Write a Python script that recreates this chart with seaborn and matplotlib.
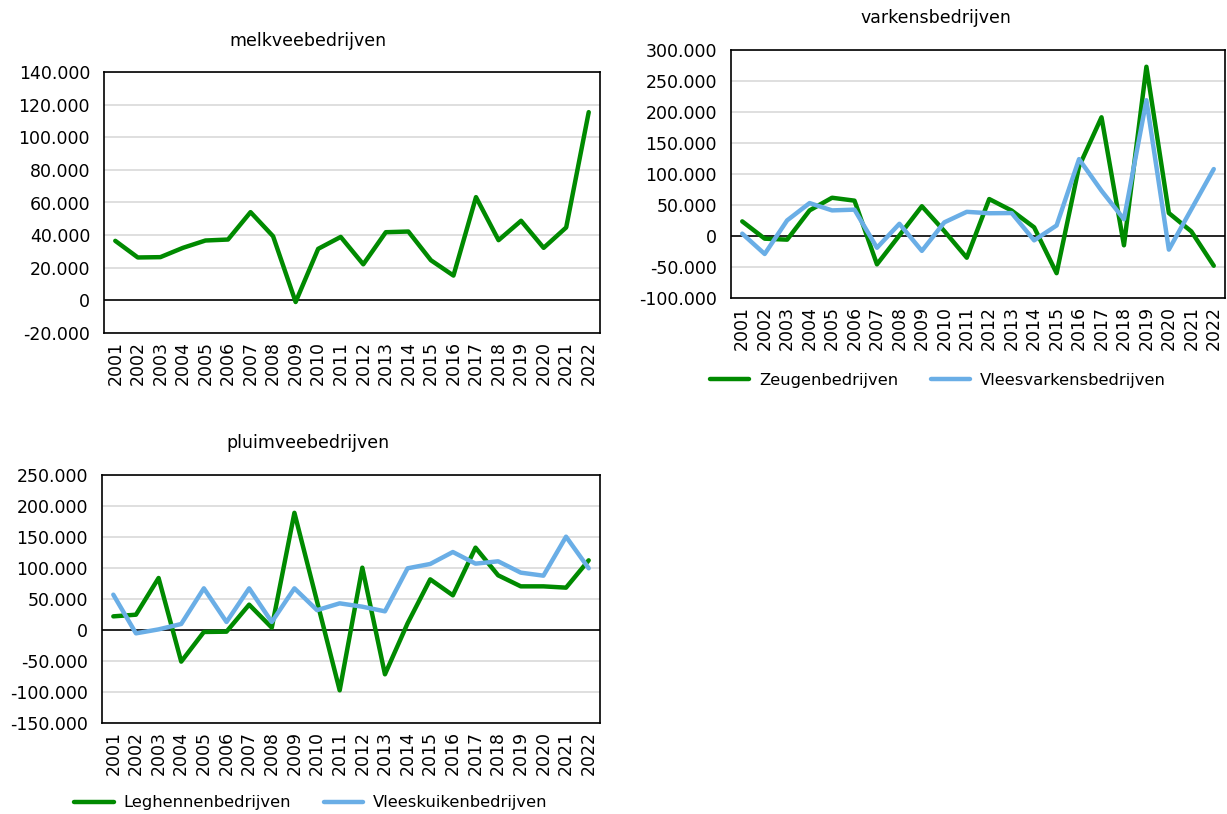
import matplotlib
matplotlib.use("Agg")
import matplotlib.pyplot as plt
from matplotlib.ticker import FuncFormatter, FixedLocator
from matplotlib.lines import Line2D
import seaborn as sns
import pandas as pd

years = list(range(2001, 2023))
melkvee = [36500, 26300, 26500, 32200, 36700, 37300, 54100, 39300, -1000, 31600, 38900,
           22100, 41800, 42200, 24600, 15200, 63300, 36900, 48800, 32200, 44700, 115400]
zeugen = [23600, -4300, -5900, 41300, 61700, 57000, -45700, 1000, 48000, 8000, -35000,
          59600, 41000, 14000, -60000, 112000, 191500, -15000, 273000, 37000, 7400, -48000]
vleesvarkens = [3800, -29000, 25200, 53100, 41300, 42500, -19000, 19700, -24000, 22000, 39000,
                36700, 37000, -7000, 17000, 124000, 73000, 27000, 219000, -22000, 43000, 108000]
leghennen = [22000, 24700, 83900, -51000, -3200, -2700, 40900, 3800, 189000, 46000, -97300,
             100500, -71500, 10800, 81700, 55900, 132800, 88200, 70400, 70400, 68300, 112400]
vleeskuiken = [57000, -5400, 1000, 9700, 67200, 12900, 67200, 12900, 67200, 32000, 43000,
               37600, 30100, 99500, 106500, 125800, 107000, 110800, 92500, 87600, 150500, 99500]

titles = ["melkveebedrijven", "varkensbedrijven", "pluimveebedrijven"]
GREEN = "#008a00"
BLUE = "#6aaee6"

sns.set_theme(style="white")
plt.rcParams["font.family"] = ["DejaVu Sans"]
plt.rcParams["text.color"] = "black"
plt.rcParams["axes.labelcolor"] = "black"
FS = 12.5
LFS = 11.8

W, H = 1227, 814
fig = plt.figure(figsize=(W / 100, H / 100), dpi=100)


def box(l, t, r, b):
    return [l / W, 1 - b / H, (r - l) / W, (b - t) / H]


fmt = FuncFormatter(lambda v, p: f"{int(round(v)):,}".replace(",", "."))


def style(ax, ymin, ymax, step):
    ax.set_xlim(2000.5, 2022.5)
    ax.set_ylim(ymin, ymax)
    ax.xaxis.set_major_locator(FixedLocator(years))
    ax.set_xticklabels([str(y) for y in years], rotation=90, fontsize=FS)
    ticks = list(range(ymin, ymax + 1, step))
    ax.yaxis.set_major_locator(FixedLocator(ticks))
    ax.yaxis.set_major_formatter(fmt)
    ax.tick_params(axis="both", length=0, labelsize=FS, colors="black")
    ax.tick_params(axis="y", pad=10)
    ax.tick_params(axis="x", pad=6)
    for t in ticks:
        if t != 0:
            ax.axhline(t, color="#d9d9d9", lw=1.2, zorder=0)
    ax.axhline(0, color="black", lw=1.2, zorder=1)
    for s in ax.spines.values():
        s.set_visible(True)
        s.set_color("black")
        s.set_linewidth(1.2)
    ax.set_xlabel("")
    ax.set_ylabel("")
    ax.grid(False)


# Panel 1
ax1 = fig.add_axes(box(104, 72, 600, 333))
df1 = pd.DataFrame({"jaar": years, "waarde": melkvee})
sns.lineplot(data=df1, x="jaar", y="waarde", ax=ax1, color=GREEN, lw=3.2, zorder=3)
style(ax1, -20000, 140000, 20000)

# Panel 2
ax2 = fig.add_axes(box(731, 50, 1225, 298))
df2 = pd.DataFrame({"jaar": years * 2,
                    "waarde": zeugen + vleesvarkens,
                    "type": ["Zeugenbedrijven"] * 22 + ["Vleesvarkensbedrijven"] * 22})
sns.lineplot(data=df2, x="jaar", y="waarde", hue="type", ax=ax2, lw=3.2,
             palette={"Zeugenbedrijven": GREEN, "Vleesvarkensbedrijven": BLUE},
             legend=False, zorder=3)
style(ax2, -100000, 300000, 50000)

# Panel 3
ax3 = fig.add_axes(box(102, 475, 600, 723))
df3 = pd.DataFrame({"jaar": years * 2,
                    "waarde": leghennen + vleeskuiken,
                    "type": ["Leghennenbedrijven"] * 22 + ["Vleeskuikenbedrijven"] * 22})
sns.lineplot(data=df3, x="jaar", y="waarde", hue="type", ax=ax3, lw=3.2,
             palette={"Leghennenbedrijven": GREEN, "Vleeskuikenbedrijven": BLUE},
             legend=False, zorder=3)
style(ax3, -150000, 250000, 50000)

# Titles
fig.text(308 / W, 1 - 41 / H, titles[0], ha="center", va="center", fontsize=FS, color="black")
fig.text(936 / W, 1 - 18 / H, titles[1], ha="center", va="center", fontsize=FS, color="black")
fig.text(308 / W, 1 - 443 / H, titles[2], ha="center", va="center", fontsize=FS, color="black")


def legend(labels, cx, cy):
    handles = [Line2D([0], [0], color=GREEN, lw=3.2),
               Line2D([0], [0], color=BLUE, lw=3.2)]
    leg = fig.legend(handles, labels, loc="center", bbox_to_anchor=(cx / W, 1 - cy / H),
                     ncol=2, frameon=False, fontsize=LFS, handlelength=2.4,
                     handletextpad=0.6, columnspacing=2.0)
    for t in leg.get_texts():
        t.set_color("black")


legend(["Zeugenbedrijven", "Vleesvarkensbedrijven"], 938, 380)
legend(["Leghennenbedrijven", "Vleeskuikenbedrijven"], 311, 803)

fig.savefig("out.png", dpi=100, facecolor="white")
